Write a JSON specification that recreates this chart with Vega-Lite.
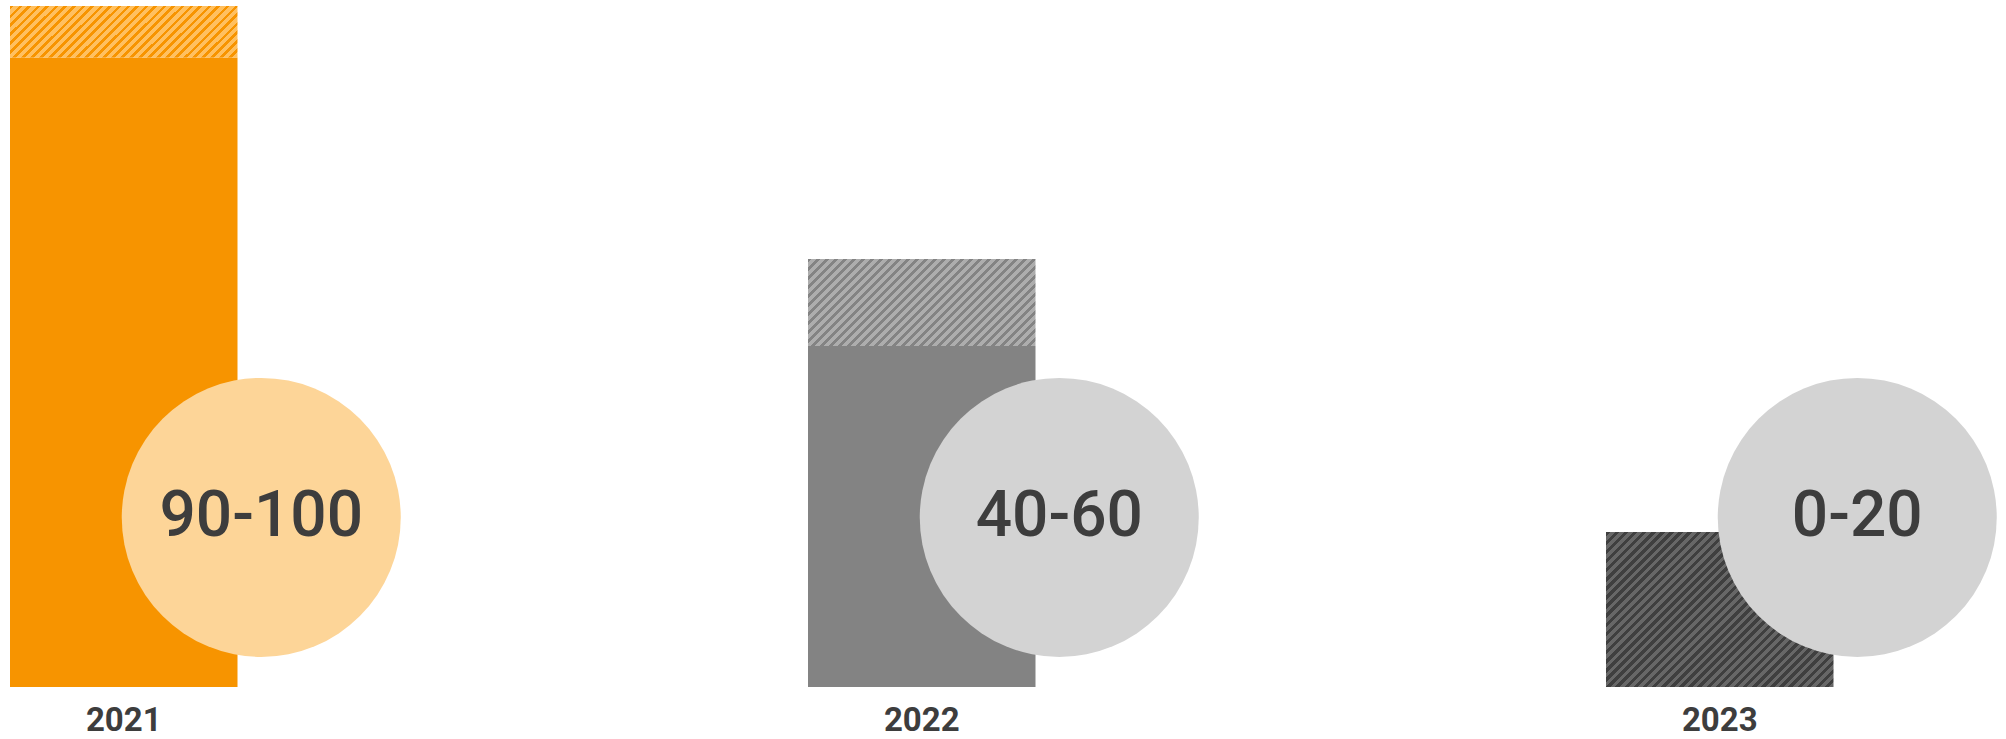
{
  "$schema": "https://vega.github.io/schema/vega-lite/v6.json",
  "autosize": "none",
  "width": 1823.5,
  "height": 681,
  "padding": {"left": 10, "top": 6, "right": 172.5, "bottom": 52},
  "background": "white",
  "config": {"view": {"stroke": null}},
  "datasets": {
    "bars": [
      {"year": "2021", "part": "solid", "y0": 0, "y1": 92.44},
      {"year": "2021", "part": "hatch", "y0": 92.44, "y1": 100},
      {"year": "2022", "part": "solid", "y0": 0, "y1": 50.07},
      {"year": "2022", "part": "hatch", "y0": 50.07, "y1": 62.85},
      {"year": "2023", "part": "hatch", "y0": 0, "y1": 22.76}
    ],
    "circles": [
      {"year": "2021", "label": "90-100", "v": 24.9},
      {"year": "2022", "label": "40-60", "v": 24.9},
      {"year": "2023", "label": "0-20", "v": 24.9}
    ]
  },
  "encoding": {
    "x": {
      "field": "year",
      "type": "nominal",
      "sort": ["2021", "2022", "2023"],
      "scale": {"paddingInner": 0.71491, "paddingOuter": 0, "round": false},
      "axis": {"title": null, "labelAngle": 0, "ticks": false, "domain": false, "grid": false, "labelFont": "Roboto", "labelFontSize": 33, "labelFontWeight": "bold", "labelColor": "#3D3D3D", "labelPadding": 17}
    }
  },
  "layer": [
    {
      "data": {"name": "bars"},
      "transform": [{"filter": "datum.part === 'solid'"}],
      "mark": {"type": "bar"},
      "encoding": {
        "y": {"field": "y0", "type": "quantitative", "scale": {"domain": [0, 100], "nice": false, "zero": true}, "axis": null},
        "y2": {"field": "y1"},
        "color": {"condition": {"test": "datum.year === '2021'", "value": "#F79400"}, "value": "#838383"}
      }
    },
    {
      "data": {"name": "bars"},
      "transform": [{"filter": "datum.part === 'hatch' && datum.year === '2021'"}],
      "mark": {"type": "bar", "color": {"gradient": "linear", "x1": 0, "y1": 0, "x2": 1.1666, "y2": 0.2641, "stops": [
        {"offset": 0, "color": "#F79400"}, {"offset": 0.0129, "color": "#F79400"}, {"offset": 0.0129, "color": "#FFC060"}, {"offset": 0.0323, "color": "#FFC060"},
        {"offset": 0.0323, "color": "#F79400"}, {"offset": 0.0452, "color": "#F79400"}, {"offset": 0.0452, "color": "#FFC060"}, {"offset": 0.0645, "color": "#FFC060"},
        {"offset": 0.0645, "color": "#F79400"}, {"offset": 0.0774, "color": "#F79400"}, {"offset": 0.0774, "color": "#FFC060"}, {"offset": 0.0968, "color": "#FFC060"},
        {"offset": 0.0968, "color": "#F79400"}, {"offset": 0.1097, "color": "#F79400"}, {"offset": 0.1097, "color": "#FFC060"}, {"offset": 0.1290, "color": "#FFC060"},
        {"offset": 0.1290, "color": "#F79400"}, {"offset": 0.1419, "color": "#F79400"}, {"offset": 0.1419, "color": "#FFC060"}, {"offset": 0.1613, "color": "#FFC060"},
        {"offset": 0.1613, "color": "#F79400"}, {"offset": 0.1742, "color": "#F79400"}, {"offset": 0.1742, "color": "#FFC060"}, {"offset": 0.1935, "color": "#FFC060"},
        {"offset": 0.1935, "color": "#F79400"}, {"offset": 0.2065, "color": "#F79400"}, {"offset": 0.2065, "color": "#FFC060"}, {"offset": 0.2258, "color": "#FFC060"},
        {"offset": 0.2258, "color": "#F79400"}, {"offset": 0.2387, "color": "#F79400"}, {"offset": 0.2387, "color": "#FFC060"}, {"offset": 0.2581, "color": "#FFC060"},
        {"offset": 0.2581, "color": "#F79400"}, {"offset": 0.2710, "color": "#F79400"}, {"offset": 0.2710, "color": "#FFC060"}, {"offset": 0.2903, "color": "#FFC060"},
        {"offset": 0.2903, "color": "#F79400"}, {"offset": 0.3032, "color": "#F79400"}, {"offset": 0.3032, "color": "#FFC060"}, {"offset": 0.3226, "color": "#FFC060"},
        {"offset": 0.3226, "color": "#F79400"}, {"offset": 0.3355, "color": "#F79400"}, {"offset": 0.3355, "color": "#FFC060"}, {"offset": 0.3548, "color": "#FFC060"},
        {"offset": 0.3548, "color": "#F79400"}, {"offset": 0.3677, "color": "#F79400"}, {"offset": 0.3677, "color": "#FFC060"}, {"offset": 0.3871, "color": "#FFC060"},
        {"offset": 0.3871, "color": "#F79400"}, {"offset": 0.4000, "color": "#F79400"}, {"offset": 0.4000, "color": "#FFC060"}, {"offset": 0.4194, "color": "#FFC060"},
        {"offset": 0.4194, "color": "#F79400"}, {"offset": 0.4323, "color": "#F79400"}, {"offset": 0.4323, "color": "#FFC060"}, {"offset": 0.4516, "color": "#FFC060"},
        {"offset": 0.4516, "color": "#F79400"}, {"offset": 0.4645, "color": "#F79400"}, {"offset": 0.4645, "color": "#FFC060"}, {"offset": 0.4839, "color": "#FFC060"},
        {"offset": 0.4839, "color": "#F79400"}, {"offset": 0.4968, "color": "#F79400"}, {"offset": 0.4968, "color": "#FFC060"}, {"offset": 0.5161, "color": "#FFC060"},
        {"offset": 0.5161, "color": "#F79400"}, {"offset": 0.5290, "color": "#F79400"}, {"offset": 0.5290, "color": "#FFC060"}, {"offset": 0.5484, "color": "#FFC060"},
        {"offset": 0.5484, "color": "#F79400"}, {"offset": 0.5613, "color": "#F79400"}, {"offset": 0.5613, "color": "#FFC060"}, {"offset": 0.5806, "color": "#FFC060"},
        {"offset": 0.5806, "color": "#F79400"}, {"offset": 0.5935, "color": "#F79400"}, {"offset": 0.5935, "color": "#FFC060"}, {"offset": 0.6129, "color": "#FFC060"},
        {"offset": 0.6129, "color": "#F79400"}, {"offset": 0.6258, "color": "#F79400"}, {"offset": 0.6258, "color": "#FFC060"}, {"offset": 0.6452, "color": "#FFC060"},
        {"offset": 0.6452, "color": "#F79400"}, {"offset": 0.6581, "color": "#F79400"}, {"offset": 0.6581, "color": "#FFC060"}, {"offset": 0.6774, "color": "#FFC060"},
        {"offset": 0.6774, "color": "#F79400"}, {"offset": 0.6903, "color": "#F79400"}, {"offset": 0.6903, "color": "#FFC060"}, {"offset": 0.7097, "color": "#FFC060"},
        {"offset": 0.7097, "color": "#F79400"}, {"offset": 0.7226, "color": "#F79400"}, {"offset": 0.7226, "color": "#FFC060"}, {"offset": 0.7419, "color": "#FFC060"},
        {"offset": 0.7419, "color": "#F79400"}, {"offset": 0.7548, "color": "#F79400"}, {"offset": 0.7548, "color": "#FFC060"}, {"offset": 0.7742, "color": "#FFC060"},
        {"offset": 0.7742, "color": "#F79400"}, {"offset": 0.7871, "color": "#F79400"}, {"offset": 0.7871, "color": "#FFC060"}, {"offset": 0.8065, "color": "#FFC060"},
        {"offset": 0.8065, "color": "#F79400"}, {"offset": 0.8194, "color": "#F79400"}, {"offset": 0.8194, "color": "#FFC060"}, {"offset": 0.8387, "color": "#FFC060"},
        {"offset": 0.8387, "color": "#F79400"}, {"offset": 0.8516, "color": "#F79400"}, {"offset": 0.8516, "color": "#FFC060"}, {"offset": 0.8710, "color": "#FFC060"},
        {"offset": 0.8710, "color": "#F79400"}, {"offset": 0.8839, "color": "#F79400"}, {"offset": 0.8839, "color": "#FFC060"}, {"offset": 0.9032, "color": "#FFC060"},
        {"offset": 0.9032, "color": "#F79400"}, {"offset": 0.9161, "color": "#F79400"}, {"offset": 0.9161, "color": "#FFC060"}, {"offset": 0.9355, "color": "#FFC060"},
        {"offset": 0.9355, "color": "#F79400"}, {"offset": 0.9484, "color": "#F79400"}, {"offset": 0.9484, "color": "#FFC060"}, {"offset": 0.9677, "color": "#FFC060"},
        {"offset": 0.9677, "color": "#F79400"}, {"offset": 0.9806, "color": "#F79400"}, {"offset": 0.9806, "color": "#FFC060"}, {"offset": 1, "color": "#FFC060"}
      ]}},
      "encoding": {
        "y": {"field": "y0", "type": "quantitative", "scale": {"domain": [0, 100], "nice": false, "zero": true}, "axis": null},
        "y2": {"field": "y1"}
      }
    },
    {
      "data": {"name": "bars"},
      "transform": [{"filter": "datum.part === 'hatch' && datum.year === '2022'"}],
      "mark": {"type": "bar", "color": {"gradient": "linear", "x1": 0, "y1": 0, "x2": 1.2060, "y2": 0.4612, "stops": [
        {"offset": 0, "color": "#838383"}, {"offset": 0.0114, "color": "#838383"}, {"offset": 0.0114, "color": "#ADADAD"}, {"offset": 0.0286, "color": "#ADADAD"},
        {"offset": 0.0286, "color": "#838383"}, {"offset": 0.0400, "color": "#838383"}, {"offset": 0.0400, "color": "#ADADAD"}, {"offset": 0.0571, "color": "#ADADAD"},
        {"offset": 0.0571, "color": "#838383"}, {"offset": 0.0686, "color": "#838383"}, {"offset": 0.0686, "color": "#ADADAD"}, {"offset": 0.0857, "color": "#ADADAD"},
        {"offset": 0.0857, "color": "#838383"}, {"offset": 0.0971, "color": "#838383"}, {"offset": 0.0971, "color": "#ADADAD"}, {"offset": 0.1143, "color": "#ADADAD"},
        {"offset": 0.1143, "color": "#838383"}, {"offset": 0.1257, "color": "#838383"}, {"offset": 0.1257, "color": "#ADADAD"}, {"offset": 0.1429, "color": "#ADADAD"},
        {"offset": 0.1429, "color": "#838383"}, {"offset": 0.1543, "color": "#838383"}, {"offset": 0.1543, "color": "#ADADAD"}, {"offset": 0.1714, "color": "#ADADAD"},
        {"offset": 0.1714, "color": "#838383"}, {"offset": 0.1829, "color": "#838383"}, {"offset": 0.1829, "color": "#ADADAD"}, {"offset": 0.2000, "color": "#ADADAD"},
        {"offset": 0.2000, "color": "#838383"}, {"offset": 0.2114, "color": "#838383"}, {"offset": 0.2114, "color": "#ADADAD"}, {"offset": 0.2286, "color": "#ADADAD"},
        {"offset": 0.2286, "color": "#838383"}, {"offset": 0.2400, "color": "#838383"}, {"offset": 0.2400, "color": "#ADADAD"}, {"offset": 0.2571, "color": "#ADADAD"},
        {"offset": 0.2571, "color": "#838383"}, {"offset": 0.2686, "color": "#838383"}, {"offset": 0.2686, "color": "#ADADAD"}, {"offset": 0.2857, "color": "#ADADAD"},
        {"offset": 0.2857, "color": "#838383"}, {"offset": 0.2971, "color": "#838383"}, {"offset": 0.2971, "color": "#ADADAD"}, {"offset": 0.3143, "color": "#ADADAD"},
        {"offset": 0.3143, "color": "#838383"}, {"offset": 0.3257, "color": "#838383"}, {"offset": 0.3257, "color": "#ADADAD"}, {"offset": 0.3429, "color": "#ADADAD"},
        {"offset": 0.3429, "color": "#838383"}, {"offset": 0.3543, "color": "#838383"}, {"offset": 0.3543, "color": "#ADADAD"}, {"offset": 0.3714, "color": "#ADADAD"},
        {"offset": 0.3714, "color": "#838383"}, {"offset": 0.3829, "color": "#838383"}, {"offset": 0.3829, "color": "#ADADAD"}, {"offset": 0.4000, "color": "#ADADAD"},
        {"offset": 0.4000, "color": "#838383"}, {"offset": 0.4114, "color": "#838383"}, {"offset": 0.4114, "color": "#ADADAD"}, {"offset": 0.4286, "color": "#ADADAD"},
        {"offset": 0.4286, "color": "#838383"}, {"offset": 0.4400, "color": "#838383"}, {"offset": 0.4400, "color": "#ADADAD"}, {"offset": 0.4571, "color": "#ADADAD"},
        {"offset": 0.4571, "color": "#838383"}, {"offset": 0.4686, "color": "#838383"}, {"offset": 0.4686, "color": "#ADADAD"}, {"offset": 0.4857, "color": "#ADADAD"},
        {"offset": 0.4857, "color": "#838383"}, {"offset": 0.4971, "color": "#838383"}, {"offset": 0.4971, "color": "#ADADAD"}, {"offset": 0.5143, "color": "#ADADAD"},
        {"offset": 0.5143, "color": "#838383"}, {"offset": 0.5257, "color": "#838383"}, {"offset": 0.5257, "color": "#ADADAD"}, {"offset": 0.5429, "color": "#ADADAD"},
        {"offset": 0.5429, "color": "#838383"}, {"offset": 0.5543, "color": "#838383"}, {"offset": 0.5543, "color": "#ADADAD"}, {"offset": 0.5714, "color": "#ADADAD"},
        {"offset": 0.5714, "color": "#838383"}, {"offset": 0.5829, "color": "#838383"}, {"offset": 0.5829, "color": "#ADADAD"}, {"offset": 0.6000, "color": "#ADADAD"},
        {"offset": 0.6000, "color": "#838383"}, {"offset": 0.6114, "color": "#838383"}, {"offset": 0.6114, "color": "#ADADAD"}, {"offset": 0.6286, "color": "#ADADAD"},
        {"offset": 0.6286, "color": "#838383"}, {"offset": 0.6400, "color": "#838383"}, {"offset": 0.6400, "color": "#ADADAD"}, {"offset": 0.6571, "color": "#ADADAD"},
        {"offset": 0.6571, "color": "#838383"}, {"offset": 0.6686, "color": "#838383"}, {"offset": 0.6686, "color": "#ADADAD"}, {"offset": 0.6857, "color": "#ADADAD"},
        {"offset": 0.6857, "color": "#838383"}, {"offset": 0.6971, "color": "#838383"}, {"offset": 0.6971, "color": "#ADADAD"}, {"offset": 0.7143, "color": "#ADADAD"},
        {"offset": 0.7143, "color": "#838383"}, {"offset": 0.7257, "color": "#838383"}, {"offset": 0.7257, "color": "#ADADAD"}, {"offset": 0.7429, "color": "#ADADAD"},
        {"offset": 0.7429, "color": "#838383"}, {"offset": 0.7543, "color": "#838383"}, {"offset": 0.7543, "color": "#ADADAD"}, {"offset": 0.7714, "color": "#ADADAD"},
        {"offset": 0.7714, "color": "#838383"}, {"offset": 0.7829, "color": "#838383"}, {"offset": 0.7829, "color": "#ADADAD"}, {"offset": 0.8000, "color": "#ADADAD"},
        {"offset": 0.8000, "color": "#838383"}, {"offset": 0.8114, "color": "#838383"}, {"offset": 0.8114, "color": "#ADADAD"}, {"offset": 0.8286, "color": "#ADADAD"},
        {"offset": 0.8286, "color": "#838383"}, {"offset": 0.8400, "color": "#838383"}, {"offset": 0.8400, "color": "#ADADAD"}, {"offset": 0.8571, "color": "#ADADAD"},
        {"offset": 0.8571, "color": "#838383"}, {"offset": 0.8686, "color": "#838383"}, {"offset": 0.8686, "color": "#ADADAD"}, {"offset": 0.8857, "color": "#ADADAD"},
        {"offset": 0.8857, "color": "#838383"}, {"offset": 0.8971, "color": "#838383"}, {"offset": 0.8971, "color": "#ADADAD"}, {"offset": 0.9143, "color": "#ADADAD"},
        {"offset": 0.9143, "color": "#838383"}, {"offset": 0.9257, "color": "#838383"}, {"offset": 0.9257, "color": "#ADADAD"}, {"offset": 0.9429, "color": "#ADADAD"},
        {"offset": 0.9429, "color": "#838383"}, {"offset": 0.9543, "color": "#838383"}, {"offset": 0.9543, "color": "#ADADAD"}, {"offset": 0.9714, "color": "#ADADAD"},
        {"offset": 0.9714, "color": "#838383"}, {"offset": 0.9829, "color": "#838383"}, {"offset": 0.9829, "color": "#ADADAD"}, {"offset": 1, "color": "#ADADAD"}
      ]}},
      "encoding": {
        "y": {"field": "y0", "type": "quantitative", "scale": {"domain": [0, 100], "nice": false, "zero": true}, "axis": null},
        "y2": {"field": "y1"}
      }
    },
    {
      "data": {"name": "bars"},
      "transform": [{"filter": "datum.part === 'hatch' && datum.year === '2023'"}],
      "mark": {"type": "bar", "color": {"gradient": "linear", "x1": 0, "y1": 0, "x2": 1.1483, "y2": 0.7823, "stops": [
        {"offset": 0, "color": "#3F3F3F"}, {"offset": 0.0119, "color": "#3F3F3F"}, {"offset": 0.0119, "color": "#676767"}, {"offset": 0.0238, "color": "#676767"},
        {"offset": 0.0238, "color": "#3F3F3F"}, {"offset": 0.0357, "color": "#3F3F3F"}, {"offset": 0.0357, "color": "#676767"}, {"offset": 0.0476, "color": "#676767"},
        {"offset": 0.0476, "color": "#3F3F3F"}, {"offset": 0.0595, "color": "#3F3F3F"}, {"offset": 0.0595, "color": "#676767"}, {"offset": 0.0714, "color": "#676767"},
        {"offset": 0.0714, "color": "#3F3F3F"}, {"offset": 0.0833, "color": "#3F3F3F"}, {"offset": 0.0833, "color": "#676767"}, {"offset": 0.0952, "color": "#676767"},
        {"offset": 0.0952, "color": "#3F3F3F"}, {"offset": 0.1071, "color": "#3F3F3F"}, {"offset": 0.1071, "color": "#676767"}, {"offset": 0.1190, "color": "#676767"},
        {"offset": 0.1190, "color": "#3F3F3F"}, {"offset": 0.1310, "color": "#3F3F3F"}, {"offset": 0.1310, "color": "#676767"}, {"offset": 0.1429, "color": "#676767"},
        {"offset": 0.1429, "color": "#3F3F3F"}, {"offset": 0.1548, "color": "#3F3F3F"}, {"offset": 0.1548, "color": "#676767"}, {"offset": 0.1667, "color": "#676767"},
        {"offset": 0.1667, "color": "#3F3F3F"}, {"offset": 0.1786, "color": "#3F3F3F"}, {"offset": 0.1786, "color": "#676767"}, {"offset": 0.1905, "color": "#676767"},
        {"offset": 0.1905, "color": "#3F3F3F"}, {"offset": 0.2024, "color": "#3F3F3F"}, {"offset": 0.2024, "color": "#676767"}, {"offset": 0.2143, "color": "#676767"},
        {"offset": 0.2143, "color": "#3F3F3F"}, {"offset": 0.2262, "color": "#3F3F3F"}, {"offset": 0.2262, "color": "#676767"}, {"offset": 0.2381, "color": "#676767"},
        {"offset": 0.2381, "color": "#3F3F3F"}, {"offset": 0.2500, "color": "#3F3F3F"}, {"offset": 0.2500, "color": "#676767"}, {"offset": 0.2619, "color": "#676767"},
        {"offset": 0.2619, "color": "#3F3F3F"}, {"offset": 0.2738, "color": "#3F3F3F"}, {"offset": 0.2738, "color": "#676767"}, {"offset": 0.2857, "color": "#676767"},
        {"offset": 0.2857, "color": "#3F3F3F"}, {"offset": 0.2976, "color": "#3F3F3F"}, {"offset": 0.2976, "color": "#676767"}, {"offset": 0.3095, "color": "#676767"},
        {"offset": 0.3095, "color": "#3F3F3F"}, {"offset": 0.3214, "color": "#3F3F3F"}, {"offset": 0.3214, "color": "#676767"}, {"offset": 0.3333, "color": "#676767"},
        {"offset": 0.3333, "color": "#3F3F3F"}, {"offset": 0.3452, "color": "#3F3F3F"}, {"offset": 0.3452, "color": "#676767"}, {"offset": 0.3571, "color": "#676767"},
        {"offset": 0.3571, "color": "#3F3F3F"}, {"offset": 0.3690, "color": "#3F3F3F"}, {"offset": 0.3690, "color": "#676767"}, {"offset": 0.3810, "color": "#676767"},
        {"offset": 0.3810, "color": "#3F3F3F"}, {"offset": 0.3929, "color": "#3F3F3F"}, {"offset": 0.3929, "color": "#676767"}, {"offset": 0.4048, "color": "#676767"},
        {"offset": 0.4048, "color": "#3F3F3F"}, {"offset": 0.4167, "color": "#3F3F3F"}, {"offset": 0.4167, "color": "#676767"}, {"offset": 0.4286, "color": "#676767"},
        {"offset": 0.4286, "color": "#3F3F3F"}, {"offset": 0.4405, "color": "#3F3F3F"}, {"offset": 0.4405, "color": "#676767"}, {"offset": 0.4524, "color": "#676767"},
        {"offset": 0.4524, "color": "#3F3F3F"}, {"offset": 0.4643, "color": "#3F3F3F"}, {"offset": 0.4643, "color": "#676767"}, {"offset": 0.4762, "color": "#676767"},
        {"offset": 0.4762, "color": "#3F3F3F"}, {"offset": 0.4881, "color": "#3F3F3F"}, {"offset": 0.4881, "color": "#676767"}, {"offset": 0.5000, "color": "#676767"},
        {"offset": 0.5000, "color": "#3F3F3F"}, {"offset": 0.5119, "color": "#3F3F3F"}, {"offset": 0.5119, "color": "#676767"}, {"offset": 0.5238, "color": "#676767"},
        {"offset": 0.5238, "color": "#3F3F3F"}, {"offset": 0.5357, "color": "#3F3F3F"}, {"offset": 0.5357, "color": "#676767"}, {"offset": 0.5476, "color": "#676767"},
        {"offset": 0.5476, "color": "#3F3F3F"}, {"offset": 0.5595, "color": "#3F3F3F"}, {"offset": 0.5595, "color": "#676767"}, {"offset": 0.5714, "color": "#676767"},
        {"offset": 0.5714, "color": "#3F3F3F"}, {"offset": 0.5833, "color": "#3F3F3F"}, {"offset": 0.5833, "color": "#676767"}, {"offset": 0.5952, "color": "#676767"},
        {"offset": 0.5952, "color": "#3F3F3F"}, {"offset": 0.6071, "color": "#3F3F3F"}, {"offset": 0.6071, "color": "#676767"}, {"offset": 0.6190, "color": "#676767"},
        {"offset": 0.6190, "color": "#3F3F3F"}, {"offset": 0.6310, "color": "#3F3F3F"}, {"offset": 0.6310, "color": "#676767"}, {"offset": 0.6429, "color": "#676767"},
        {"offset": 0.6429, "color": "#3F3F3F"}, {"offset": 0.6548, "color": "#3F3F3F"}, {"offset": 0.6548, "color": "#676767"}, {"offset": 0.6667, "color": "#676767"},
        {"offset": 0.6667, "color": "#3F3F3F"}, {"offset": 0.6786, "color": "#3F3F3F"}, {"offset": 0.6786, "color": "#676767"}, {"offset": 0.6905, "color": "#676767"},
        {"offset": 0.6905, "color": "#3F3F3F"}, {"offset": 0.7024, "color": "#3F3F3F"}, {"offset": 0.7024, "color": "#676767"}, {"offset": 0.7143, "color": "#676767"},
        {"offset": 0.7143, "color": "#3F3F3F"}, {"offset": 0.7262, "color": "#3F3F3F"}, {"offset": 0.7262, "color": "#676767"}, {"offset": 0.7381, "color": "#676767"},
        {"offset": 0.7381, "color": "#3F3F3F"}, {"offset": 0.7500, "color": "#3F3F3F"}, {"offset": 0.7500, "color": "#676767"}, {"offset": 0.7619, "color": "#676767"},
        {"offset": 0.7619, "color": "#3F3F3F"}, {"offset": 0.7738, "color": "#3F3F3F"}, {"offset": 0.7738, "color": "#676767"}, {"offset": 0.7857, "color": "#676767"},
        {"offset": 0.7857, "color": "#3F3F3F"}, {"offset": 0.7976, "color": "#3F3F3F"}, {"offset": 0.7976, "color": "#676767"}, {"offset": 0.8095, "color": "#676767"},
        {"offset": 0.8095, "color": "#3F3F3F"}, {"offset": 0.8214, "color": "#3F3F3F"}, {"offset": 0.8214, "color": "#676767"}, {"offset": 0.8333, "color": "#676767"},
        {"offset": 0.8333, "color": "#3F3F3F"}, {"offset": 0.8452, "color": "#3F3F3F"}, {"offset": 0.8452, "color": "#676767"}, {"offset": 0.8571, "color": "#676767"},
        {"offset": 0.8571, "color": "#3F3F3F"}, {"offset": 0.8690, "color": "#3F3F3F"}, {"offset": 0.8690, "color": "#676767"}, {"offset": 0.8810, "color": "#676767"},
        {"offset": 0.8810, "color": "#3F3F3F"}, {"offset": 0.8929, "color": "#3F3F3F"}, {"offset": 0.8929, "color": "#676767"}, {"offset": 0.9048, "color": "#676767"},
        {"offset": 0.9048, "color": "#3F3F3F"}, {"offset": 0.9167, "color": "#3F3F3F"}, {"offset": 0.9167, "color": "#676767"}, {"offset": 0.9286, "color": "#676767"},
        {"offset": 0.9286, "color": "#3F3F3F"}, {"offset": 0.9405, "color": "#3F3F3F"}, {"offset": 0.9405, "color": "#676767"}, {"offset": 0.9524, "color": "#676767"},
        {"offset": 0.9524, "color": "#3F3F3F"}, {"offset": 0.9643, "color": "#3F3F3F"}, {"offset": 0.9643, "color": "#676767"}, {"offset": 0.9762, "color": "#676767"},
        {"offset": 0.9762, "color": "#3F3F3F"}, {"offset": 0.9881, "color": "#3F3F3F"}, {"offset": 0.9881, "color": "#676767"}, {"offset": 1, "color": "#676767"}
      ]}},
      "encoding": {
        "y": {"field": "y0", "type": "quantitative", "scale": {"domain": [0, 100], "nice": false, "zero": true}, "axis": null},
        "y2": {"field": "y1"}
      }
    },
    {
      "data": {"name": "circles"},
      "mark": {"type": "point", "shape": "circle", "filled": true, "size": 77841, "opacity": 1, "strokeWidth": 0, "xOffset": 137.5},
      "encoding": {
        "y": {"field": "v", "type": "quantitative", "scale": {"domain": [0, 100], "nice": false, "zero": true}, "axis": null},
        "color": {"condition": {"test": "datum.year === '2021'", "value": "#FDD598"}, "value": "#D3D3D3"}
      }
    },
    {
      "data": {"name": "circles"},
      "mark": {"type": "text", "font": "Roboto", "fontSize": 64, "fontWeight": 500, "color": "#3D3D3D", "align": "center", "baseline": "middle", "xOffset": 137.5},
      "encoding": {
        "y": {"field": "v", "type": "quantitative", "scale": {"domain": [0, 100], "nice": false, "zero": true}, "axis": null},
        "text": {"field": "label", "type": "nominal"}
      }
    }
  ]
}
